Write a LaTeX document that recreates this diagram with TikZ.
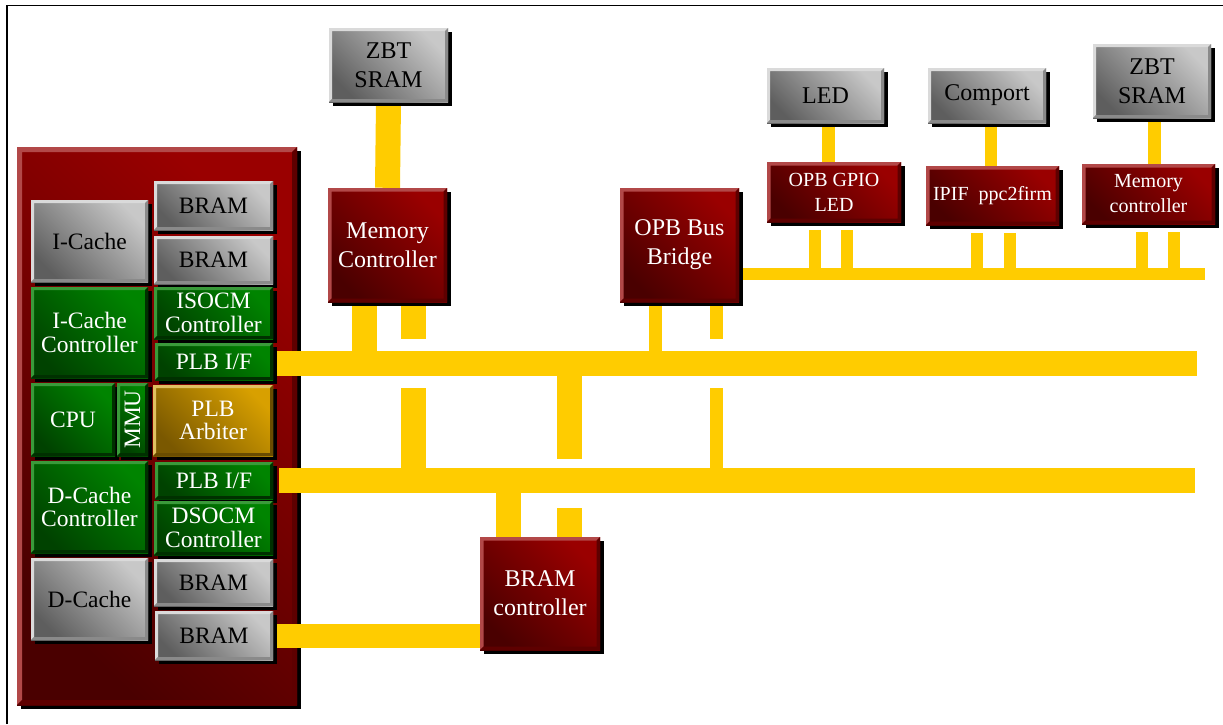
\documentclass[tikz,border=0pt]{standalone}
\usepackage{fontspec}
\setmainfont{Liberation Serif}
\usepackage{graphicx}
\usetikzlibrary{calc,shadows}
\pgfdeclarelayer{back}
\pgfdeclarelayer{bg}
\pgfsetlayers{back,bg,main}
\usepackage{xcolor}
\definecolor{busyellow}{HTML}{FFCC00}
\definecolor{reddark}{HTML}{4A0000}
\definecolor{redlight}{HTML}{9A0000}
\definecolor{redhi}{HTML}{B24848}
\definecolor{redsh}{HTML}{5E0000}
\definecolor{graydark}{HTML}{5E5E5E}
\definecolor{graylight}{HTML}{C8C8C8}
\definecolor{grayhi}{HTML}{DADADA}
\definecolor{graysh}{HTML}{8A8A8A}
\definecolor{greendark}{HTML}{004200}
\definecolor{greenlight}{HTML}{008400}
\definecolor{greenhi}{HTML}{3A9A3A}
\definecolor{greensh}{HTML}{003000}
\definecolor{golddark}{HTML}{7A5800}
\definecolor{goldlight}{HTML}{D8A000}
\definecolor{goldhi}{HTML}{E0C060}
\definecolor{goldsh}{HTML}{6A4C00}
\newcommand{\boxfont}{\fontsize{24}{29}\selectfont}
\newcommand{\cellfont}{\fontsize{23.5}{23.5}\selectfont}
\newcommand{\tagfont}{\fontsize{20}{25}\selectfont}

\begin{document}
\begin{tikzpicture}[
  x=1pt, y=-1pt,
  box/.style={inner sep=0pt, align=center,
    drop shadow={shadow xshift=4pt, shadow yshift=-4pt, fill=black, opacity=1}},
  bevel/.style n args={3}{path picture={
    \fill[#1] (path picture bounding box.north west) -- (path picture bounding box.north east)
      -- ($(path picture bounding box.north east)+(-#3,-#3)$)
      -- ($(path picture bounding box.north west)+(#3,-#3)$)
      -- ($(path picture bounding box.south west)+(#3,#3)$)
      -- (path picture bounding box.south west) -- cycle;
    \fill[#2] (path picture bounding box.north east) -- (path picture bounding box.south east)
      -- (path picture bounding box.south west)
      -- ($(path picture bounding box.south west)+(#3,#3)$)
      -- ($(path picture bounding box.south east)+(-#3,#3)$)
      -- ($(path picture bounding box.north east)+(-#3,-#3)$) -- cycle;
  }},
  redbox/.style={box, bottom color=reddark, top color=redlight, shading angle=-45,
    text=white, font=\boxfont, bevel={redhi}{redsh}{3.5pt}},
  graybox/.style={box, bottom color=graydark, top color=graylight, shading angle=-45,
    text=black, font=\boxfont, bevel={grayhi}{graysh}{3pt}},
  greenbox/.style={box, bottom color=greendark, top color=greenlight, shading angle=-45,
    text=white, font=\cellfont, bevel={greenhi}{greensh}{3pt}},
  goldbox/.style={box, bottom color=golddark, top color=goldlight, shading angle=-45,
    text=white, font=\cellfont, bevel={goldhi}{goldsh}{3pt}},
  busbar/.style={fill=busyellow, inner sep=0pt, draw=none},
  stub/.style={draw=busyellow, line width=#1},
  stub/.default=25pt
]
\useasboundingbox (0,0) rectangle (1223,724);

% PowerPC block
\begin{pgfonlayer}{back}
\fill[white] (0,0) rectangle (1223,724);
\node[redbox, bevel={redhi}{redsh}{5pt}, minimum width=280pt, minimum height=558pt] (ppc) at (157,426) {};
\end{pgfonlayer}

\node[graybox, font=\cellfont, minimum width=117pt, minimum height=82pt] (icache) at (89.5,241) {I-Cache};
\node[graybox, font=\cellfont, minimum width=119pt, minimum height=49pt] (brama) at (213.5,205.5) {BRAM};
\node[graybox, font=\cellfont, minimum width=119pt, minimum height=48pt] (bramb) at (213.5,260) {BRAM};
\node[greenbox, minimum width=117pt, minimum height=91pt] (icctl) at (89.5,332.5) {I-Cache\\Controller};
\node[greenbox, minimum width=119pt, minimum height=52pt] (isocm) at (213.5,313) {ISOCM\\Controller};
\node[greenbox, minimum width=118pt, minimum height=37pt] (plbifa) at (214,361.5) {PLB I/F};
\node[greenbox, minimum width=84pt, minimum height=73pt] (cpu) at (73,419.5) {CPU};
\node[greenbox, minimum width=31pt, minimum height=73pt] (mmu) at (132.5,419.5) {\rotatebox{90}{MMU}};
\node[goldbox, minimum width=120pt, minimum height=71pt] (arbiter) at (213,420.5) {PLB\\Arbiter};
\node[greenbox, minimum width=117pt, minimum height=92pt] (dcctl) at (89.5,507) {D-Cache\\Controller};
\node[greenbox, minimum width=118pt, minimum height=37pt] (plbifb) at (214,480.5) {PLB I/F};
\node[greenbox, minimum width=119pt, minimum height=54pt] (dsocm) at (213.5,528) {DSOCM\\Controller};
\node[graybox, font=\cellfont, minimum width=117pt, minimum height=82pt] (dcache) at (89.5,599) {D-Cache};
\node[graybox, font=\cellfont, minimum width=119pt, minimum height=47pt] (bramc) at (213.5,582.5) {BRAM};
\node[graybox, font=\cellfont, minimum width=118pt, minimum height=49pt] (bramd) at (214,635.5) {BRAM};

% peripherals
\node[graybox, minimum width=119pt, minimum height=74pt] (zbta) at (388.5,65) {ZBT\\SRAM};
\node[redbox, minimum width=119pt, minimum height=114pt] (memctl) at (387.5,245) {Memory\\Controller};
\node[redbox, minimum width=119pt, minimum height=114pt] (bridge) at (679.5,245) {OPB Bus\\Bridge};
\node[redbox, minimum width=120pt, minimum height=113pt] (bramctl) at (540,593.5) {BRAM\\controller};
\node[graybox, minimum width=117pt, minimum height=55pt] (led) at (825.5,95.5) {LED};
\node[graybox, minimum width=118pt, minimum height=55pt] (comport) at (987,95.5) {Comport};
\node[graybox, minimum width=118pt, minimum height=74pt] (zbtb) at (1152,81) {ZBT\\SRAM};
\node[redbox, font=\tagfont, minimum width=134pt, minimum height=60pt] (gpio) at (834,192) {OPB GPIO\\LED};
\node[redbox, font=\tagfont, minimum width=133pt, minimum height=59pt] (ipif) at (992.5,195.5) {IPIF\enspace ppc2firm};
\node[redbox, font=\tagfont, minimum width=133pt, minimum height=60pt] (memctlb) at (1148.5,194) {Memory\\controller};

% buses
\begin{pgfonlayer}{bg}
\node[busbar, anchor=west, minimum width=920pt, minimum height=25pt] (plba) at ($(plbifa.east)+(4,2)$) {};
\node[busbar, anchor=west, minimum width=916pt, minimum height=25pt] (plbb) at ($(plbifb.east)+(6,0)$) {};
\node[busbar, anchor=west, minimum width=466pt, minimum height=12pt] (opb) at ($(bridge.east)+(0,29)$) {};

\draw[stub] (zbta.south) -- (memctl.north);
\coordinate (mca) at ($(memctl.south)+(-23,0)$);
\coordinate (mcb) at ($(memctl.south)+(26,0)$);
\draw[stub] (mca) -- (mca |- plba.north);
\draw[stub] (mcb) -- ($(mcb |- plba.north)+(0,-12)$);
\draw[stub] ($(mcb |- plba.south)+(0,12)$) -- (mcb |- plbb.north);

\coordinate (bra) at ($(bridge.south)+(-24,0)$);
\coordinate (brb) at ($(bridge.south)+(37,0)$);
\draw[stub=13pt] (bra) -- (bra |- plba.north);
\draw[stub=13pt] (brb) -- ($(brb |- plba.north)+(0,-12)$);
\draw[stub=13pt] ($(brb |- plba.south)+(0,12)$) -- (brb |- plbb.north);

\coordinate (bca) at ($(bramctl.north)+(-31.5,0)$);
\coordinate (bcb) at ($(bramctl.north)+(29.5,0)$);
\draw[stub] (bcb |- plba.south) -- ($(bcb |- plbb.north)+(0,-9)$);
\draw[stub] ($(bcb |- plbb.south)+(0,15)$) -- (bcb);
\draw[stub] (bca |- plbb.south) -- (bca);
\draw[stub=24pt] (bramd.east) -- (bramd.east -| bramctl.west);

\coordinate (lda) at ($(led.south)+(3,0)$);
\coordinate (cpa) at ($(comport.south)+(4,0)$);
\coordinate (zba) at ($(zbtb.south)+(2,0)$);
\draw[stub=13pt] (lda) -- (lda |- gpio.north);
\draw[stub=12pt] (cpa) -- (cpa |- ipif.north);
\draw[stub=13pt] (zba) -- (zba |- memctlb.north);

\foreach \dev/\dx in {gpio/-19.5, gpio/13, ipif/-15.5, ipif/17.5, memctlb/-6.5, memctlb/25.5}{
  \coordinate (tap) at ($(\dev.south)+(\dx,8)$);
  \draw[stub=12pt] (tap) -- (tap |- opb.north);
}
\end{pgfonlayer}

% frame
\draw[line width=1.5pt] (7,724) -- (7,5.5) -- (1223,5.5);
\end{tikzpicture}
\end{document}
